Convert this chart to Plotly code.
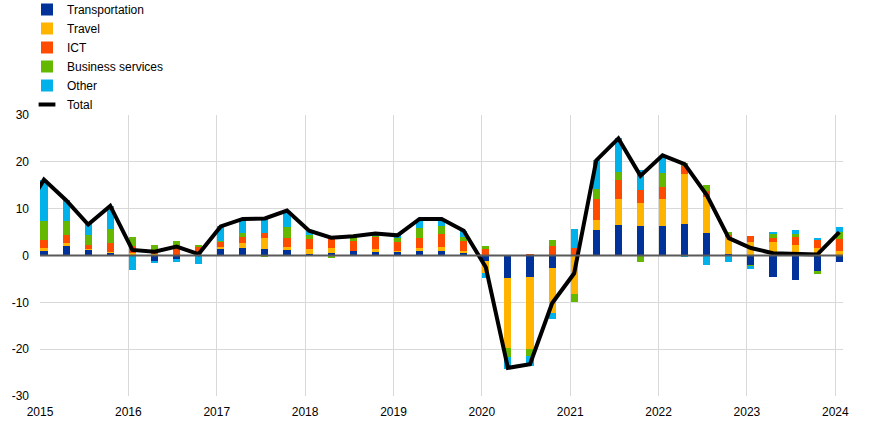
import plotly.graph_objects as go

# Quarters 2015Q1 .. 2024Q1
quarters = [f"{y}Q{q}" for y in range(2015, 2025) for q in range(1, 5)][:37]

transportation = [1.1, 2.1, 1.2, 0.6, 0.1, -1.3, -0.9, 0.1,
                  1.4, 1.7, 1.4, 1.2, 0.4, 0.6, 1.0, 0.8,
                  0.8, 1.0, 1.0, 0.6, -1.1, -4.8, -4.6, -2.6,
                  0.0, 5.5, 6.6, 6.4, 6.4, 6.8, 4.9, 0.4,
                  -2.1, -4.6, -5.2, -3.5, -1.4]
travel = [0.4, 0.6, 0.2, 0.2, 0.5, 0.3, 0.2, 0.5,
          0.4, 1.0, 2.4, 0.6, 1.0, 0.9, 0.0, 0.6,
          0.2, 0.6, 0.9, 0.4, -2.6, -15.0, -15.4, -9.6,
          -8.2, 2.1, 5.4, 4.9, 5.6, 10.5, 7.6, 3.6,
          2.8, 2.9, 2.3, 1.6, 1.0]
ict = [1.9, 1.7, 0.9, 1.9, 1.4, 0.8, 1.8, 1.3,
       1.1, 1.3, 1.1, 1.9, 2.1, 2.0, 2.0, 2.6,
       1.9, 2.2, 2.6, 2.1, 1.6, 0.0, 0.4, 2.1,
       1.6, 4.4, 4.1, 2.6, 2.6, 1.9, 1.2, 0.3,
       1.3, 0.9, 1.7, 1.8, 2.6]
business = [4.0, 3.0, 2.1, 3.0, 1.9, 1.2, 1.0, 0.4,
            0.1, 0.9, -0.4, 2.4, 0.8, -0.6, 0.8, 0.2,
            0.9, 2.1, 1.7, 0.9, 0.4, -1.9, -1.5, 1.3,
            -1.7, 2.3, 1.7, -1.4, 3.1, 0.6, 1.3, 0.8,
            -0.3, 0.8, 0.6, -0.4, 1.4]
other = [8.7, 4.4, 2.3, 4.9, -3.1, -0.4, -0.4, -1.9,
         3.2, 2.9, 3.3, 3.4, 1.0, 0.7, 0.3, 0.5,
         0.5, 1.8, 1.6, 1.2, -1.1, -2.5, -2.1, -1.3,
         4.0, 6.0, 7.2, 4.3, 3.4, -0.4, -2.1, -1.4,
         -0.4, 0.4, 0.9, 0.4, 1.1]
# Total starts one quarter earlier (2014Q4), its first segment is cut by the axis
total = [8.5, 16.2, 11.8, 6.6, 10.6, 1.2, 0.8, 1.9, 0.3,
         6.2, 7.8, 7.9, 9.6, 5.3, 3.8, 4.1, 4.7,
         4.3, 7.8, 7.8, 5.3, -2.5, -24.0, -23.2, -10.2,
         -3.8, 20.3, 25.0, 17.0, 21.4, 19.5, 12.9, 3.7,
         1.6, 0.5, 0.3, 0.2, 5.0]

year_ticks = list(range(2015, 2025))
y_ticks = [-30, -20, -10, 0, 10, 20, 30]

series = [("Transportation", transportation, "#003299"),
          ("Travel", travel, "#FFB400"),
          ("ICT", ict, "#FF4B00"),
          ("Business services", business, "#65B800"),
          ("Other", other, "#00B1EA")]

def qpos(label):
    y, q = label.split("Q")
    return int(y) + (int(q) - 1) * 0.25 + 0.045

xb = [qpos(q) for q in quarters]
xt = [qpos("2014Q4")] + xb

fig = go.Figure()
for name, vals, col in series:
    fig.add_trace(go.Bar(x=xb, y=vals, name=name, marker_color=col,
                         marker_line_width=0, width=0.08))
fig.add_trace(go.Scatter(x=xt, y=total, mode="lines", name="Total",
                         line=dict(color="black", width=4), showlegend=False))
fig.add_trace(go.Scatter(x=[None], y=[None], mode="markers", name="Total",
                         marker=dict(symbol="line-ew", size=12,
                                     line=dict(width=4, color="black"))))

fig.add_hline(y=0, line=dict(color="#595959", width=2), layer="above")

fig.update_layout(
    width=872, height=421,
    margin=dict(l=40, r=29, t=115, b=25, autoexpand=False),
    barmode="relative",
    bargap=0,
    plot_bgcolor="white", paper_bgcolor="white",
    font=dict(family="Arial, Liberation Sans, sans-serif", size=12, color="#000000"),
    hovermode=False,
    legend=dict(x=27 / 872, xref="paper", y=1 + 120 / 281, yref="paper",
                yanchor="top", xanchor="left", traceorder="normal",
                font=dict(size=12), bgcolor="rgba(0,0,0,0)"),
    xaxis=dict(range=[2015, 2024.087], tickvals=year_ticks,
               ticktext=[str(y) for y in year_ticks],
               showgrid=True, gridcolor="#d9d9d9", gridwidth=1,
               zeroline=False, showline=False, ticks="", ticklabelstandoff=7),
    yaxis=dict(range=[-30, 30], tickvals=y_ticks,
               ticktext=[str(v) for v in y_ticks],
               showgrid=True, gridcolor="#d9d9d9", gridwidth=1,
               zeroline=False, showline=False, ticks="", ticklabelstandoff=10),
)
# legend x in paper coords: container x=27px -> paper
fig.update_layout(legend_x=(27 - 40) / 803)

fig.write_html("out.html", config={"displayModeBar": False},
               post_script="document.body.style.margin='0';document.body.style.overflow='hidden';")
